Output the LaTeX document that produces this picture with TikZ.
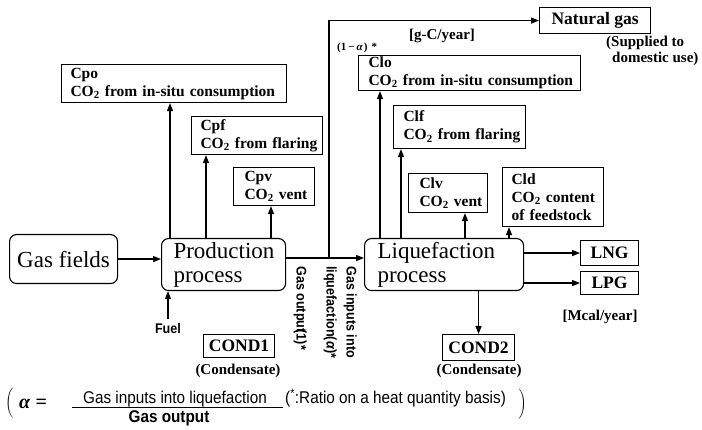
\documentclass[tikz,border=0pt]{standalone}
\usepackage{fontspec}
\setmainfont{Liberation Serif}
\newfontfamily\ssfont{Liberation Sans}[FakeStretch=0.9]
\usetikzlibrary{arrows.meta,calc}
\tikzset{
  box/.style={draw, line width=1.1pt, anchor=north west, inner xsep=9pt, inner ysep=0pt, align=left,
    font=\bfseries\fontsize{15.5}{18}\selectfont},
  sbox/.style={draw, line width=1.1pt, anchor=north west, inner sep=0pt,
    font=\bfseries\fontsize{17.5}{17.5}\selectfont},
  rbox/.style={draw, line width=1.1pt, rounded corners=7pt, anchor=north west, inner xsep=12pt, inner ysep=0pt,
    align=left, font=\fontsize{23}{24}\selectfont},
  arr/.style={line width=1.1pt, -{Triangle[length=8pt,width=6pt]}},
  ln/.style={line width=1.1pt},
  lbl/.style={font=\bfseries\fontsize{15}{16}\selectfont, inner sep=0pt},
  sans/.style={font=\ssfont\bfseries\fontsize{14}{20}\selectfont, inner sep=0pt},
  formula/.style={font=\ssfont\fontsize{17}{17}\selectfont, inner sep=0pt},
}
\begin{document}
\begin{tikzpicture}[x=1pt,y=-1pt]
\useasboundingbox[fill=white] (0,0) rectangle (702,430);

% process boxes
\node[rbox, minimum width=108pt, minimum height=49pt, inner xsep=0pt, align=center] (gas) at (9,234) {Gas fields};
\node[rbox, text width=100pt, minimum height=52pt] (prod) at (161,238) {Production\\process};
\node[rbox, text width=133pt, inner xsep=13pt, minimum height=52pt] (liq) at (364,238) {Liquefaction\\process};

% CO2 boxes
\node[box, text width=207pt, minimum height=38pt] (cpo) at (61,64) {\mbox{Cpo}\\\mbox{CO\textsubscript{2} from in-situ consumption}};
\node[box, text width=113pt, minimum height=38pt] (cpf) at (191,116) {\mbox{Cpf}\\\mbox{CO\textsubscript{2} from flaring}};
\node[box, inner xsep=11pt, text width=59pt, minimum height=38pt] (cpv) at (233,167) {\mbox{Cpv}\\\mbox{CO\textsubscript{2} vent}};
\node[box, inner xsep=10pt, text width=202pt, minimum height=35pt] (clo) at (358,55) {\mbox{Clo}\\\mbox{CO\textsubscript{2} from in-situ consumption}};
\node[box, inner xsep=10pt, text width=112pt, minimum height=43pt] (clf) at (393,105) {\mbox{Clf}\\\mbox{CO\textsubscript{2} from flaring}};
\node[box, inner xsep=11pt, text width=57pt, minimum height=39pt] (clv) at (408,173) {\mbox{Clv}\\\mbox{CO\textsubscript{2} vent}};
\node[box, inner xsep=9pt, text width=83pt, minimum height=59pt] (cld) at (502,167) {\mbox{Cld}\\\mbox{CO\textsubscript{2} content}\\\mbox{of feedstock}};

% product boxes
\node[sbox, minimum width=111pt, minimum height=26pt] (ng) at (539,7) {Natural gas};
\node[sbox, minimum width=58pt, minimum height=25pt] (lng) at (580,240) {LNG};
\node[sbox, minimum width=58pt, minimum height=23pt] (lpg) at (580,271) {LPG};
\node[sbox, minimum width=72pt, minimum height=26pt] (cond2) at (442,334) {COND2};
\node[sbox, minimum width=71pt, minimum height=23pt] (cond1) at (203,334) {COND1};

% labels
\node[lbl] (cond1lbl) at (238,371) {(Condensate)};
\node[lbl] (cond2lbl) at (479,371) {(Condensate)};
\node[lbl] (mcal) at (600,317) {[Mcal/year]};
\node[lbl] (gc) at (442,36) {[g-C/year]};
\node[lbl, align=left, anchor=north west] (sup) at (606,36) {(Supplied to\\\hspace*{6pt}domestic use)};
\node[lbl, font=\bfseries\fontsize{11}{11}\selectfont, anchor=west] (onem) at (337,48)
  {(1\hspace{2pt}−\hspace{2pt}\textit{α}\hspace{1pt})\hspace{4pt}*};
\node[sans] (fuel) at (168,328) {Fuel};
\node[sans, rotate=-90, anchor=north west] (gout) at (307,266) {Gas output\kern-3pt(1)*};
\node[sans, rotate=-90, anchor=north west, align=left] (gin) at (357,266) {Gas inputs into\\liquefaction(\textit{α})*};

% connectors
\coordinate (j) at (329,258);
\draw[arr] (gas.east) -- (gas.east -| prod.west);
\draw[ln] (prod.east |- j) -- (j);
\draw[arr] (j) -- (j -| liq.west);
\draw[arr] (j) |- (ng.west);
\draw[arr] ([xshift=9pt]prod.north west) -- ([xshift=9pt]prod.north west |- cpo.south);
\draw[arr] ([xshift=45pt]prod.north west) -- ([xshift=45pt]prod.north west |- cpf.south);
\draw[arr] ([xshift=110pt]prod.north west) -- ([xshift=110pt]prod.north west |- cpv.south);
\draw[arr] ([xshift=16pt]liq.north west) -- ([xshift=16pt]liq.north west |- clo.south);
\draw[arr] ([xshift=37pt]liq.north west) -- ([xshift=37pt]liq.north west |- clf.south);
\draw[arr] ([xshift=101pt]liq.north west) -- ([xshift=101pt]liq.north west |- clv.south);
\draw[arr] ([xshift=145pt]liq.north west) -- ([xshift=145pt]liq.north west |- cld.south);
\draw[arr] (liq.east |- lng.west) -- (lng.west);
\draw[arr] (liq.east |- lpg.west) -- (lpg.west);
\draw[arr] (cond2.north |- liq.south) -- (cond2.north);
\draw[arr] ([yshift=4pt]fuel.north) -- (fuel.north |- prod.south);

% formula
\node[inner sep=0pt] (lp) at (10,404) {$\left(\vrule height 14pt depth 14pt width 0pt\right.$};
\node[font=\bfseries\fontsize{20}{20}\selectfont, anchor=base west, inner sep=0pt] (alpha) at (19,409) {\textit{α} =};
\node[formula, anchor=base] (num) at (175,403) {Gas inputs into liquefaction};
\node[formula, font=\ssfont\bfseries\fontsize{17}{17}\selectfont, anchor=base] (den) at (169,423) {Gas output};
\draw[line width=0.9pt] (72,407) -- (283,407);
\node[formula, anchor=base west] (ratio) at (285,404) {(\textsuperscript{*}:Ratio on a heat quantity basis)};
\node[inner sep=0pt] (rp) at (522,405) {$\left.\vrule height 14pt depth 14pt width 0pt\right)$};
\end{tikzpicture}
\end{document}
